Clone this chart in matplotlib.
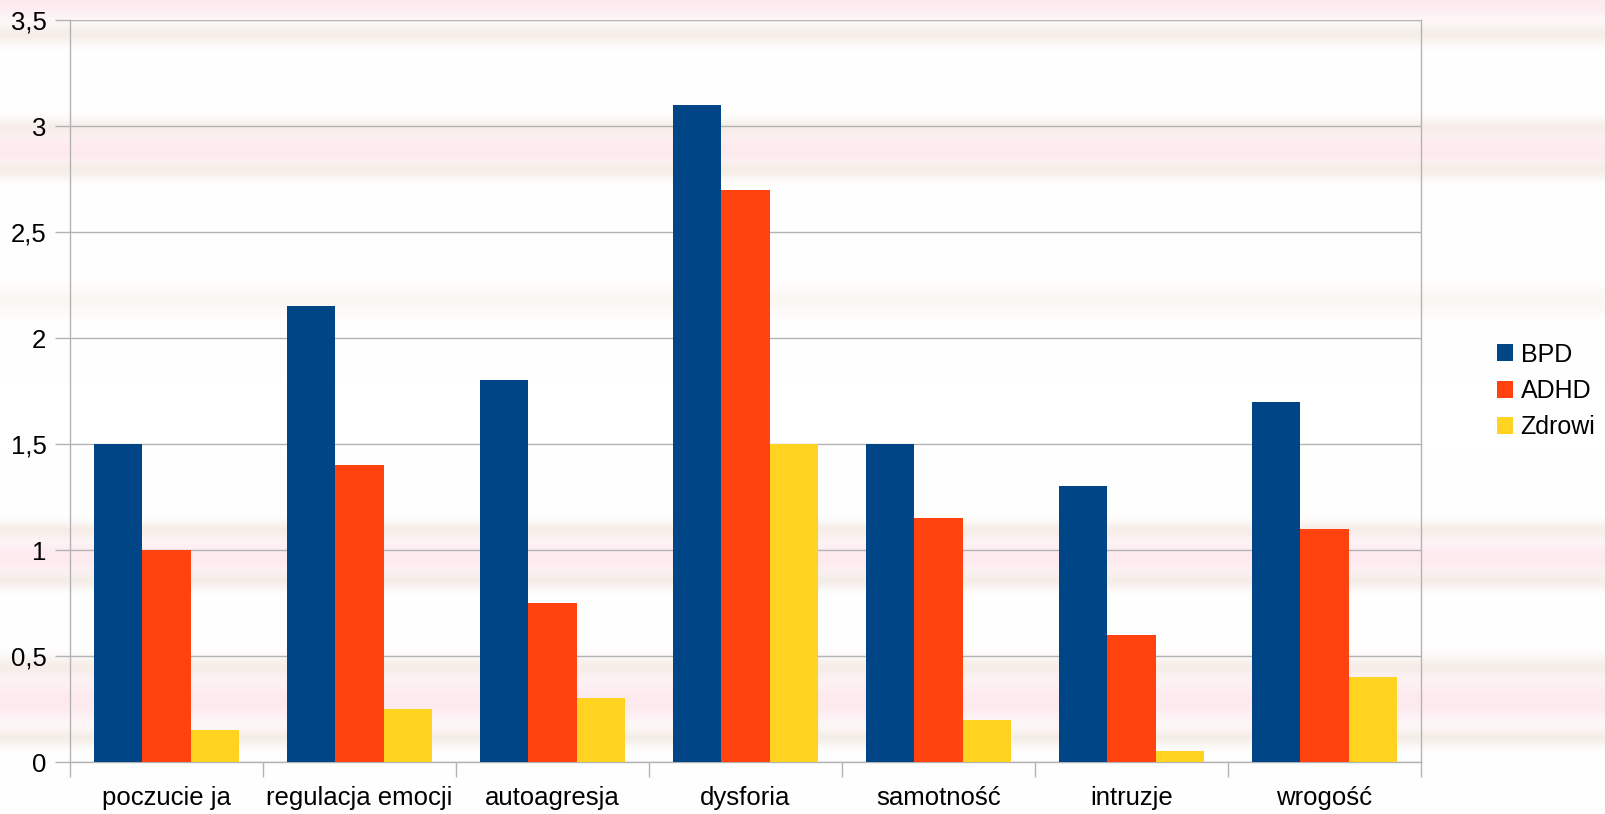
import numpy as np
import matplotlib.pyplot as plt
from matplotlib.colors import to_rgb
from matplotlib.ticker import FuncFormatter, FixedLocator

plt.rcParams['font.family'] = ['Liberation Sans', 'DejaVu Sans']

categories = ['poczucie ja', 'regulacja emocji', 'autoagresja', 'dysforia',
              'samotność', 'intruzje', 'wrogość']
series = ['BPD', 'ADHD', 'Zdrowi']
bpd = [1.5, 2.15, 1.8, 3.1, 1.5, 1.3, 1.7]
adhd = [1.0, 1.4, 0.75, 2.7, 1.15, 0.6, 1.1]
zdrowi = [0.15, 0.25, 0.3, 1.5, 0.2, 0.05, 0.4]
colors = ['#004586', '#ff420e', '#ffd320']

W, H = 1606, 814
fig = plt.figure(figsize=(W / 100, H / 100), dpi=100)

# soft horizontal stripes in the background (pixel row from top, spread, colour)
pink, beige = '#fde6ec', '#f4ebe4'
bands = [(0, 14, pink), (34, 7, beige), (128, 7, beige), (150, 12, pink), (170, 6, beige),
         (300, 10, '#faf5f0'), (530, 6, beige), (557, 13, pink), (580, 6, beige),
         (667, 8, beige), (700, 17, pink), (737, 6, beige)]
rows = np.arange(H)
img = np.ones((H, 3))
for c, w, col in bands:
    wgt = 0.85 * np.exp(-0.5 * ((rows - c) / w) ** 2)[:, None]
    img = img * (1 - wgt) + np.array(to_rgb(col))[None, :] * wgt
bg = fig.add_axes([0, 0, 1, 1], zorder=-1)
bg.imshow(img[:, None, :], aspect='auto', extent=[0, 1, 0, 1])
bg.axis('off')

ax = fig.add_axes([70 / W, 1 - 762 / H, (1421 - 70) / W, (762 - 20) / H])
ax.set_facecolor('none')

x = np.arange(len(categories))
bw = 0.25
for i, (vals, name) in enumerate(zip([bpd, adhd, zdrowi], series)):
    ax.bar(x + (i - 1) * bw, vals, bw, color=colors[i], label=name, zorder=3)

ax.set_xlim(-0.5, len(categories) - 0.5)
ax.set_ylim(0, 3.5)
ax.set_yticks(np.arange(0, 3.51, 0.5))
ax.yaxis.set_major_formatter(FuncFormatter(lambda v, p: ('%g' % v).replace('.', ',')))
ax.grid(axis='y', color='#b3b3b3', linewidth=1, zorder=0)

ax.xaxis.set_major_locator(FixedLocator(np.arange(-0.5, len(categories), 1)))
ax.xaxis.set_minor_locator(FixedLocator(x))
ax.set_xticklabels([], minor=False)
ax.set_xticklabels(categories, minor=True)
ax.tick_params(axis='x', which='major', length=11, color='#b3b3b3', width=1)
ax.tick_params(axis='x', which='minor', length=0, pad=17, labelsize=18.5)
ax.tick_params(axis='y', length=11, color='#b3b3b3', width=1, pad=6, labelsize=18.5)

for s in ['left', 'bottom', 'right']:
    ax.spines[s].set_color('#b3b3b3')
    ax.spines[s].set_linewidth(1)
ax.spines['top'].set_visible(False)

ax.legend(loc='center left', bbox_to_anchor=(1.045, 0.5), frameon=False, fontsize=18,
          handlelength=0.65, handleheight=0.65, handletextpad=0.3, labelspacing=0.5,
          borderaxespad=0.2)

fig.savefig('out.png', dpi=100)
